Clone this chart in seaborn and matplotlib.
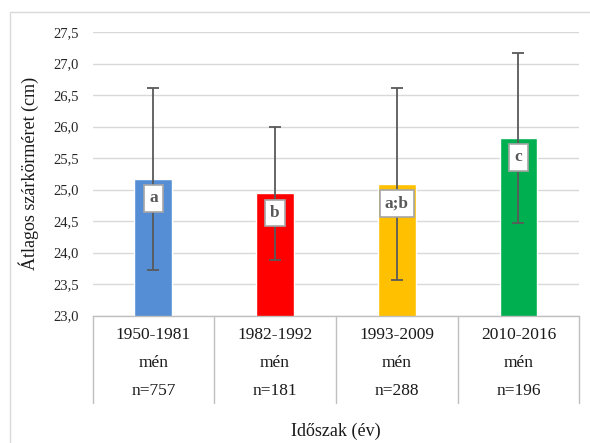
import numpy as np
import pandas as pd
import seaborn as sns
import matplotlib.pyplot as plt
from matplotlib.patches import Rectangle
from matplotlib.ticker import FuncFormatter


periods = ["1950-1981", "1982-1992", "1993-2009", "2010-2016"]
sex = ["mén", "mén", "mén", "mén"]
counts = [757, 181, 288, 196]
means = [25.17, 24.94, 25.09, 25.82]
sds = [1.44, 1.05, 1.52, 1.35]
letters = ["a", "b", "a;b", "c"]
colors = ["#558ED5", "#FF0000", "#FFC000", "#00B050"]

labels = [f"{p}\n{s}\nn={n}" for p, s, n in zip(periods, sex, counts)]
df = pd.DataFrame({"label": labels, "mean": means, "sd": sds})

sns.set_theme(style="white")
plt.rcParams["font.family"] = ["Liberation Serif", "DejaVu Serif"]

fig = plt.figure(figsize=(5.9, 4.43), dpi=100)
ax = fig.add_axes([0.1568, 0.2874, 0.8251, 0.6404])

# outer chart border
fig.patches.append(Rectangle((0.017, -0.05), 1.1, 1.023, transform=fig.transFigure,
                             fill=False, edgecolor="#D9D9D9", linewidth=1.0))

sns.barplot(data=df, x="label", y="mean", hue="label", palette=colors,
            width=0.31, legend=False, saturation=1, ax=ax, zorder=2)

ax.errorbar(np.arange(len(means)), means, yerr=sds, fmt="none",
            ecolor="#595959", elinewidth=1.3, capsize=4.5, capthick=1.3, zorder=3)

for i, (m, lab) in enumerate(zip(means, letters)):
    ax.annotate(lab, (i, m), xytext=(0, -14), textcoords="offset points",
                ha="center", va="center", fontsize=12.5, fontweight="bold",
                color="#595959", zorder=4,
                bbox=dict(boxstyle="square,pad=0.3", fc="white", ec="#A6A6A6", lw=1.2))

ax.set_ylim(23.0, 27.5)
ax.set_xlim(-0.5, 3.5)
ax.set_yticks(np.arange(23.0, 27.51, 0.5))
ax.yaxis.set_major_formatter(FuncFormatter(lambda v, _: f"{v:.1f}".replace(".", ",")))
ax.grid(axis="y", color="#D9D9D9", linewidth=1.0, zorder=0)
ax.set_axisbelow(True)

for side in ["left", "right", "top"]:
    ax.spines[side].set_visible(False)
ax.spines["bottom"].set_color("#BFBFBF")
ax.spines["bottom"].set_linewidth(1.0)

ax.tick_params(axis="y", length=0, pad=10, labelsize=10.5, labelcolor="#262626")
ax.tick_params(axis="x", length=0, pad=8, labelsize=12.5, labelcolor="#1A1A1A")
for t in ax.get_xticklabels():
    t.set_linespacing(2.0)

# table separators below the axis
for x in np.arange(-0.5, 4.0, 1.0):
    ax.plot([x, x], [0, -0.307], transform=ax.get_xaxis_transform(),
            color="#BFBFBF", linewidth=1.0, clip_on=False)

ax.set_xlabel("Időszak (év)", fontsize=13, color="#1A1A1A", labelpad=17)
ax.set_ylabel("Átlagos szárkörméret (cm)", fontsize=13, color="#1A1A1A", labelpad=10)

plt.savefig("out.png", dpi=100)
plt.close()
